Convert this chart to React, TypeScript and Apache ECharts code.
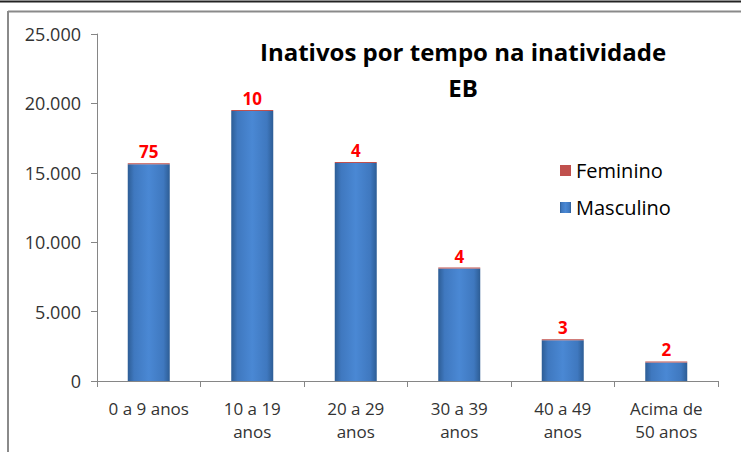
import React, { useEffect, useRef } from "react";
import * as echarts from "echarts";

const categories = ["0 a 9 anos", "10 a 19\nanos", "20 a 29\nanos", "30 a 39\nanos", "40 a 49\nanos", "Acima de\n50 anos"];
const masculino = [15620, 19450, 15700, 8100, 2930, 1340];
const feminino = [75, 10, 4, 4, 3, 2];
const titleLines = ["Inativos por tempo na inatividade", "EB"];
const yTicks = [0, 5000, 10000, 15000, 20000, 25000];

const fmt = (v: number) => v.toLocaleString("de-DE");

export default function App() {
  const ref = useRef<HTMLDivElement>(null);
  useEffect(() => {
    document.body.style.margin = "0";
    const chart = echarts.init(ref.current!, null, { renderer: "svg" });
    const blue = new echarts.graphic.LinearGradient(0, 0, 1, 0, [
      { offset: 0, color: "#2d5d95" },
      { offset: 0.15, color: "#3f78bf" },
      { offset: 0.5, color: "#4a88d4" },
      { offset: 0.85, color: "#3f78bf" },
      { offset: 1, color: "#2d5d95" },
    ]);
    chart.setOption({
      animation: false,
      backgroundColor: "#ffffff",
      textStyle: { fontFamily: "Open Sans" },
      title: {
        text: titleLines.join("\n"),
        left: 458,
        top: 28,
        textAlign: "center",
        textStyle: { fontSize: 24, fontWeight: "bold", color: "#000", lineHeight: 36, fontFamily: "Open Sans" },
      },
      legend: {
        orient: "vertical",
        left: 555,
        top: 153,
        icon: "rect",
        itemWidth: 11,
        itemHeight: 11,
        itemGap: 12,
        data: ["Feminino", "Masculino"],
        textStyle: { fontSize: 20, color: "#000", fontFamily: "Open Sans", lineHeight: 25 },
      },
      grid: { left: 97, right: 23, top: 34, bottom: 71 },
      xAxis: {
        type: "category",
        data: categories,
        axisLine: { lineStyle: { color: "#868686" } },
        axisTick: { show: true, length: 6, lineStyle: { color: "#868686" } },
        axisLabel: { color: "#333", fontSize: 17, lineHeight: 23, margin: 16, interval: 0, fontFamily: "Open Sans" },
      },
      yAxis: {
        type: "value",
        min: 0,
        max: yTicks[yTicks.length - 1],
        interval: yTicks[1] - yTicks[0],
        axisLine: { show: true, lineStyle: { color: "#868686" } },
        axisTick: { show: true, length: 6, lineStyle: { color: "#868686" } },
        splitLine: { show: false },
        axisLabel: { color: "#333", fontSize: 18, margin: 16, formatter: (v: number) => fmt(v), fontFamily: "Open Sans" },
      },
      series: [
        {
          name: "Masculino",
          type: "bar",
          stack: "t",
          barWidth: 42,
          data: masculino,
          itemStyle: { color: blue },
        },
        {
          name: "Feminino",
          type: "bar",
          stack: "t",
          barWidth: 42,
          barMinHeight: 1,
          data: feminino,
          itemStyle: { color: "#c0504d" },
          label: {
            show: true,
            position: "top",
            distance: 3,
            color: "#ff0000",
            fontWeight: "bold",
            fontSize: 17,
            fontFamily: "Open Sans",
          },
        },
      ],
      graphic: [
        { type: "line", shape: { x1: 0, y1: 1.5, x2: 741, y2: 1.5 }, style: { stroke: "#222", lineWidth: 2 } },
        { type: "line", shape: { x1: 8, y1: 11.5, x2: 741, y2: 11.5 }, style: { stroke: "#8a8a8a", lineWidth: 2 } },
        { type: "line", shape: { x1: 8, y1: 11, x2: 8, y2: 452 }, style: { stroke: "#8a8a8a", lineWidth: 2 } },
      ],
    });
    return () => chart.dispose();
  }, []);
  return <div ref={ref} style={{ width: 741, height: 452 }} />;
}
